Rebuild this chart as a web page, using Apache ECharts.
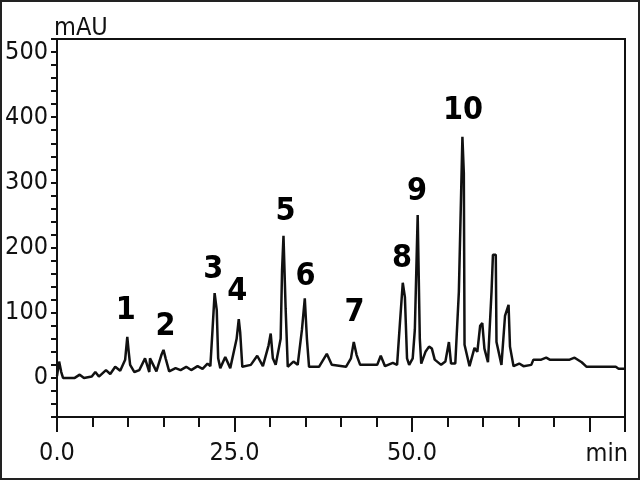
<!DOCTYPE html>
<html>
<head>
<meta charset="utf-8">
<script src="https://cdn.jsdelivr.net/npm/echarts@6/dist/echarts.min.js"></script>
<style>
html,body{margin:0;padding:0;background:#fff;}
#chart{width:640px;height:480px;}
</style>
</head>
<body>
<div id="chart"></div>
<script>
// Retention time (min)
const times = [0.0,0.3,0.6,0.85,2.5,3.2,3.8,4.9,5.4,5.9,6.9,7.5,8.2,8.9,9.6,9.9,10.1,10.3,10.9,11.6,12.4,13.0,
  13.1,14.0,14.7,15.0,15.3,15.8,16.7,17.4,18.2,18.9,19.8,20.5,21.2,21.6,21.9,22.2,22.5,22.7,23.0,23.7,24.4,
  25.3,25.6,25.8,26.1,27.3,28.2,29.0,29.8,30.1,30.4,30.8,31.5,31.7,31.9,32.2,32.5,33.3,33.9,34.5,34.9,35.2,35.5,
  36.9,38.0,38.7,40.7,41.4,41.8,42.2,42.7,45.1,45.6,46.2,47.3,47.9,48.3,48.7,49.0,49.3,49.6,50.1,50.4,50.8,51.1,
  51.3,51.9,52.4,52.8,53.2,54.1,54.7,55.2,55.5,56.1,56.6,57.1,57.3,57.4,58.1,58.8,59.2,59.6,59.9,60.2,60.7,61.2,
  61.4,61.8,61.9,62.6,63.1,63.6,63.8,64.3,65.1,65.7,66.8,67.1,68.2,68.9,69.4,72.2,72.9,73.9,74.6,78.7,79.1,80.0];
// Absorbance (mAU)
const absorbance = [3,25,9,0,0,5,0,2,9,2,12,6,17,11,28,63,40,20,9,12,30,9,
  30,10,35,43,30,10,15,12,17,12,18,14,22,18,73,130,104,30,15,32,15,
  60,90,70,17,20,34,18,50,68,30,20,60,166,218,107,17,25,20,74,122,60,17,
  17,37,20,17,30,55,35,20,20,34,18,23,20,84,146,124,30,20,30,74,250,60,
  22,40,48,45,28,20,25,55,22,22,132,370,314,51,18,46,40,80,84,45,24,132,
  189,189,55,20,95,112,48,18,22,18,20,28,28,31,28,28,31,24,17,17,14,14];

// Peak labels and where they sit (time, mAU)
const peakNames = ['1','2','3','4','5','6','7','8','9','10'];
const peakLabelTime = [9.7,15.3,22.0,25.4,32.2,35.0,41.9,48.6,50.7,57.2];
const peakLabelValue = [103,78,166,132,255,155,100,183,285,410];

const yLabels = [0,100,200,300,400,500];
const xLabels = [0,25,50];

const FONT = '"Liberation Sans Narrow","Arial Narrow","DejaVu Sans Condensed","Liberation Sans",sans-serif';
const INK = '#111';

const chart = echarts.init(document.getElementById('chart'), null, {renderer:'canvas'});
chart.setOption({
  animation:false,
  backgroundColor:'#fff',
  grid:{left:57,right:15,top:39,bottom:63,show:true,borderColor:INK,borderWidth:2,backgroundColor:'transparent'},
  xAxis:[{
    type:'value',min:0,max:80,interval:5,position:'bottom',
    axisLine:{show:true,onZero:false,lineStyle:{color:INK,width:2}},
    axisTick:{show:true,length:10,lineStyle:{color:INK,width:2}},
    axisLabel:{show:false},
    splitLine:{show:false},
    name:'min',nameLocation:'end',nameGap:3,
    nameTextStyle:{color:INK,fontFamily:FONT,fontSize:25,align:'right',verticalAlign:'top',padding:[25,0,0,0]}
  },{
    type:'value',min:0,max:80,interval:25,position:'bottom',
    axisLine:{show:false,onZero:false},
    axisTick:{show:true,length:15,lineStyle:{color:INK,width:2}},
    axisLabel:{show:true,margin:24,color:INK,fontFamily:FONT,fontSize:25,
      formatter:v=>xLabels.indexOf(v)>=0?v.toFixed(1):''},
    splitLine:{show:false}
  }],
  yAxis:{
    type:'value',min:-60,max:520,interval:20,
    axisLine:{show:true,onZero:false,lineStyle:{color:INK,width:2}},
    axisTick:{show:true,length:6,lineStyle:{color:INK,width:2}},
    axisLabel:{margin:9,color:INK,fontFamily:FONT,fontSize:25,
      formatter:v=>yLabels.indexOf(v)>=0?String(v):''},
    splitLine:{show:false},
    name:'mAU',nameLocation:'end',nameGap:0,
    nameTextStyle:{color:INK,fontFamily:FONT,fontSize:25,align:'left',verticalAlign:'bottom',padding:[0,0,-2,-3]}
  },
  series:[{
    type:'line',xAxisIndex:0,
    data:times.map((t,i)=>[t,absorbance[i]]),
    showSymbol:false,symbol:'none',
    lineStyle:{color:INK,width:2.5},
    z:3
  },{
    type:'scatter',xAxisIndex:0,
    data:peakNames.map((n,i)=>({name:n,value:[peakLabelTime[i],peakLabelValue[i]]})),
    symbolSize:1,itemStyle:{color:'rgba(0,0,0,0)',opacity:1},
    label:{show:true,position:'inside',formatter:p=>p.name,color:'#000',
      fontFamily:FONT,fontWeight:'bold',fontSize:32,textBorderWidth:0},
    emphasis:{disabled:true},
    z:4
  }],
  graphic:[{type:'rect',shape:{x:1,y:1,width:638,height:478},style:{fill:'none',stroke:'#222',lineWidth:2},silent:true}]
});
</script>
</body>
</html>
